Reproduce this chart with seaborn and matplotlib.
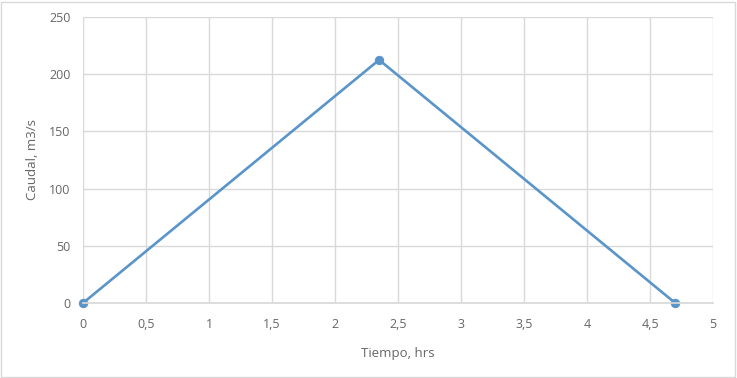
import matplotlib
matplotlib.use("Agg")
import matplotlib.pyplot as plt
import seaborn as sns
import pandas as pd
from matplotlib.ticker import FuncFormatter, MultipleLocator

tiempo = [0, 2.35, 4.7]
caudal = [0, 212.5, 0]

sns.set_theme(style="white")
plt.rcParams['font.family'] = ['Open Sans', 'DejaVu Sans']

fig = plt.figure(figsize=(7.37, 3.78), dpi=100)
ax = fig.add_axes([83/737, 1-303/378, 630/737, 286/378])
df = pd.DataFrame({"Tiempo": tiempo, "Caudal": caudal})
sns.lineplot(data=df, x="Tiempo", y="Caudal", ax=ax, color="#5A95CA", linewidth=1.9,
             marker="o", markersize=6, markeredgecolor="#5A95CA")
ax.set_xlim(0, 5)
ax.set_ylim(0, 250)
ax.xaxis.set_major_locator(MultipleLocator(0.5))
ax.yaxis.set_major_locator(MultipleLocator(50))
ax.xaxis.set_major_formatter(FuncFormatter(lambda v, p: ("%g" % v).replace(".", ",")))
ax.grid(True, color="#D9D9D9", linewidth=1)
ax.set_axisbelow(True)
for s in ["top", "right", "left"]:
    ax.spines[s].set_visible(False)
ax.spines["bottom"].set_color("#D9D9D9")
ax.tick_params(axis="y", length=0, labelsize=9, colors="#666666", pad=9)
ax.tick_params(axis="x", length=0, labelsize=9, colors="#666666", pad=11)
ax.set_xlabel("Tiempo, hrs", fontsize=9.5, color="#666666", labelpad=11)
ax.set_ylabel("Caudal, m3/s", fontsize=9.5, color="#666666", labelpad=7)
for l in ax.lines:
    l.set_clip_on(False)
fig.patches.append(plt.Rectangle((0.002, 0.003), 0.995, 0.993, transform=fig.transFigure,
                                 fill=False, edgecolor="#D9D9D9", linewidth=1))
fig.savefig("out.png", dpi=100)
